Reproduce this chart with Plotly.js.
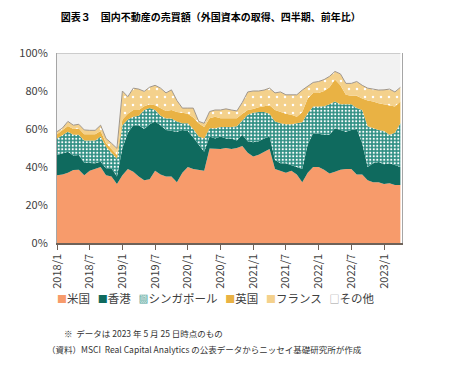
<!DOCTYPE html>
<html>
<head>
<meta charset="utf-8">
<script src="https://cdn.plot.ly/plotly-3.0.1.min.js"></script>
<style>html,body{margin:0;padding:0;background:#fff;}#chart{width:450px;height:367px;}</style>
</head>
<body>
<div id="chart"></div>
<script>
// Months (categories)
const months = [
 "2018/1","2018/2","2018/3","2018/4","2018/5","2018/6","2018/7","2018/8","2018/9","2018/10","2018/11","2018/12",
 "2019/1","2019/2","2019/3","2019/4","2019/5","2019/6","2019/7","2019/8","2019/9","2019/10","2019/11","2019/12",
 "2020/1","2020/2","2020/3","2020/4","2020/5","2020/6","2020/7","2020/8","2020/9","2020/10","2020/11","2020/12",
 "2021/1","2021/2","2021/3","2021/4","2021/5","2021/6","2021/7","2021/8","2021/9","2021/10","2021/11","2021/12",
 "2022/1","2022/2","2022/3","2022/4","2022/5","2022/6","2022/7","2022/8","2022/9","2022/10","2022/11","2022/12",
 "2023/1","2023/2","2023/3","2023/4"
];
const tickLabels = ["2018/1","2018/7","2019/1","2019/7","2020/1","2020/7","2021/1","2021/7","2022/1","2022/7","2023/1"];

// Shares (%) by country of buyer
const usa = [35.7,36,37,38.4,38.5,35.7,38,39,40,35.7,35,31,
 35.7,39,37.5,35,33,33.5,38,36,35,35,32,37,
 40,39,38.5,38,49.8,49.8,49.5,50,49.5,50,51,47.5,
 45.5,46.5,48,49.5,39,38,37,38,36,32,37,40,
 40,38.5,36.6,37.5,38.5,39,39,36,36,33,32,32,
 31,31.5,30.5,30.5];
const hongkong = [10.6,11,11,7.6,7.8,6.6,4,3,2.8,3.6,4.3,4,
 14.3,19,24.5,27,27,29,26,26,24.5,24,26.6,22.5,
 19,16.5,13.1,10,6.2,5.2,6.5,5,5.5,4,6,6,
 7.5,7,7,6.5,4.7,4,5,3,4,7,15,17.7,
 17.5,18.5,20.4,22.9,21,19.5,20.5,24,16.5,7,10,10.6,
 10.5,10.5,10.5,9.5];
const singapore = [8.7,10,10.6,11,10.7,11.7,12,12,13.2,11.4,8.2,9.3,
 12,7,4.5,5,10,8.5,6,5,6,6.5,5.4,3.5,
 4,4.5,4.4,7,4.4,5.4,5,6,6,7.5,7.5,14,
 15.5,15.5,14,12,20.3,21,20.5,21.5,23,24.5,16.3,14.1,
 14.3,15,16,14.1,13.5,14.5,13.5,11,17.5,21.5,18.4,16.9,
 17.5,15,17,23];
const uk = [2.2,2.5,3,3,3.3,3.2,3.2,3.2,3,1.8,2,2,
 3,3,3.5,3,2,2,2.5,4,4,4.5,5,5.5,
 5,6,7,6,5.3,6.1,4.7,4.7,4.7,4.2,3.5,2.5,
 2,2.5,3,4.5,6,6,5.5,5,3.5,5.5,7.7,7.1,
 7.2,8,9,11.5,10,5,4.5,6.5,6,13.5,14.1,14,
 14,15.5,13.8,11.5];
const france = [1.4,1,2.4,2,2.2,2.3,2.1,2.1,3,2.5,3,3.5,
 15,9,11.5,11,7.8,9,10.5,10.5,9.5,10.6,6,2.5,
 3,5,1,2,3.5,3.5,4.3,4.9,4.3,3.8,6,9.5,
 9.5,8.5,8.5,9,9,10.5,10,10.5,11.5,11.5,6.5,5.6,
 6,6,5.7,4.3,6,6,6.5,7.5,7,6.5,6.5,7,
 7.6,8.5,7.7,7.4];
const others = [41.4,39.5,36,38,37.5,40.5,40.7,40.7,38,45,47.5,50.2,
 20,23,18.5,19,20.2,18,17,18.5,21,19.4,25,29,
 29,29,36,37,30.8,30,30,29.4,30,30.5,26,20.5,
 20,20,19.5,18.5,21,20.5,22,22,22,19.5,17.5,15.5,
 15,14,12.3,9.7,11,16,16,15,17,18.5,19,19.5,
 19.4,19,20.5,18.1];

const seriesNames = ["米国","香港","シンガポール","英国","フランス","その他"];
const seriesValues = [usa, hongkong, singapore, uk, france, others];

// Styles
const fills = ["#F79B6B","#0F6A5E","#2F8F83","#E9B244","#F4D18C","#F2F2F2"];
const patterns = [null, null,
  {shape: ".", bgcolor: "#2F8F83", fgcolor: "#FFFFFF", size: 3.5, solidity: 0.3, fillmode: "replace"},
  null,
  {shape: ".", bgcolor: "#F4D18C", fgcolor: "#FFFFFF", size: 8, solidity: 0.08, fillmode: "replace"},
  null];
const lineStyles = [
  {width: 0, color: "#F79B6B"},
  {width: 0, color: "#0F6A5E"},
  {width: 0, color: "#2F8F83"},
  {width: 0, color: "#E9B244"},
  {width: 1, color: "#A0968A"},
  {width: 1, color: "#A6A6A6"}
];
const legendSymbolColors = ["#F79B6B","#0F6A5E","#4FA398","#E9B244","#F4D18C","#9A9A9A"];
const legendSymbols = ["■","■","▩","■","■","□"];

const traces = seriesNames.map((name, i) => {
  const t = {
    type: "scatter", mode: "lines", name: name,
    x: months, y: seriesValues[i],
    stackgroup: "one",
    fillcolor: fills[i],
    line: Object.assign({shape: "linear"}, lineStyles[i]),
    hoverinfo: "skip",
    showlegend: false
  };
  if (patterns[i]) t.fillpattern = patterns[i];
  return t;
});

const font = "'Noto Sans CJK JP', 'Noto Sans', sans-serif";
const legendText = seriesNames.map((n, i) =>
  '<span style="color:' + legendSymbolColors[i] + ';font-size:10px">' + legendSymbols[i] + '</span>' + n
).join("&nbsp;&nbsp;&nbsp;");

const layout = {
  width: 450, height: 367,
  margin: {l: 57, r: 48, t: 53, b: 124, pad: 0},
  paper_bgcolor: "#FFFFFF", plot_bgcolor: "#FFFFFF",
  font: {family: font, color: "#333333", size: 11},
  title: {
    text: "図表３　国内不動産の売買額（外国資本の取得、四半期、前年比）",
    font: {family: font, size: 10, color: "#000000", weight: "bold"},
    x: 0.135, xanchor: "left", xref: "container",
    y: 0.953, yanchor: "middle", yref: "container"
  },
  showlegend: false,
  xaxis: {
    type: "category",
    range: [0, 63.3],
    tickmode: "array", tickvals: tickLabels, ticktext: tickLabels,
    tickangle: -90,
    ticks: "outside", ticklen: 5, tickcolor: "#6E6259", tickwidth: 1,
    showline: true, linecolor: "#6E6259", linewidth: 1.5,
    showgrid: false, zeroline: false,
    tickfont: {family: font, size: 11, color: "#404040"}
  },
  yaxis: {
    range: [0, 100], dtick: 20, ticksuffix: "%",
    showline: true, linecolor: "#A6A6A6", linewidth: 1, mirror: true,
    showgrid: false, zeroline: false, ticks: "",
    ticklabelstandoff: 6,
    tickfont: {family: font, size: 11, color: "#404040"}
  },
  annotations: [
    {text: legendText, xref: "paper", yref: "paper", x: 0.46, y: -0.29,
     xanchor: "center", yanchor: "middle", showarrow: false,
     font: {family: font, size: 11.5, color: "#404040"}},
    {text: "※  データは 2023 年 5 月 25 日時点のもの", xref: "paper", yref: "paper",
     x: 0.014, y: -0.474, xanchor: "left", yanchor: "middle", showarrow: false,
     font: {family: font, size: 8.5, color: "#333333"}},
    {text: "（資料）MSCI  Real Capital Analytics の公表データからニッセイ基礎研究所が作成", xref: "paper", yref: "paper",
     x: -0.035, y: -0.558, xanchor: "left", yanchor: "middle", showarrow: false,
     font: {family: font, size: 8.5, color: "#333333"}}
  ]
};

Plotly.newPlot("chart", traces, layout, {staticPlot: true, displayModeBar: false});
</script>
</body>
</html>
